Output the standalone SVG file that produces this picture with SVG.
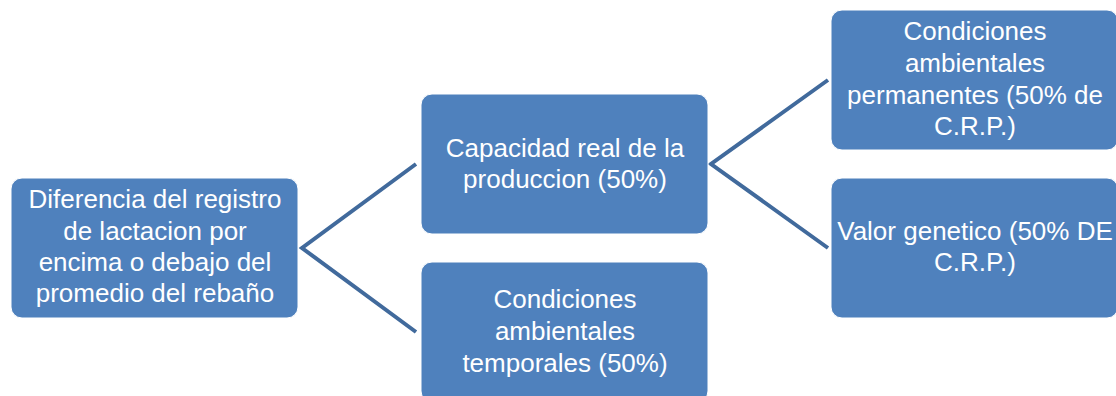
<svg xmlns="http://www.w3.org/2000/svg" width="1116" height="396" viewBox="0 0 1116 396">
<style>
.box{fill:#4F81BD;stroke:#ffffff;stroke-width:1}
.t{font-family:"Liberation Sans",Arial,sans-serif;font-size:26px;fill:#ffffff;text-anchor:middle}
.c{stroke:#416A9C;stroke-width:4;fill:none;stroke-linecap:butt;stroke-linejoin:miter}
</style>
<rect width="1116" height="396" fill="#ffffff"/>
<g id="connectors">
<polyline class="c" points="416,164 302,248 416,332"/>
<polyline class="c" points="828,80 711,164 828,248"/>
</g>
<g id="n1">
<rect class="box" x="11" y="178" width="287" height="140" rx="11"/>
<text class="t" x="155" y="208">Diferencia del registro</text>
<text class="t" x="155" y="240">de lactacion por</text>
<text class="t" x="155" y="271">encima o debajo del</text>
<text class="t" x="155" y="302">promedio del rebaño</text>
</g>
<g id="n2">
<rect class="box" x="421" y="94" width="287" height="140" rx="11"/>
<text class="t" x="565" y="157">Capacidad real de la</text>
<text class="t" x="565" y="188">produccion (50%)</text>
</g>
<g id="n3">
<rect class="box" x="421" y="262" width="287" height="140" rx="11"/>
<text class="t" x="565" y="308">Condiciones</text>
<text class="t" x="565" y="340">ambientales</text>
<text class="t" x="565" y="372">temporales (50%)</text>
</g>
<g id="n4">
<rect class="box" x="831" y="10" width="287" height="140" rx="11"/>
<text class="t" x="975" y="40">Condiciones</text>
<text class="t" x="975" y="72">ambientales</text>
<text class="t" x="975" y="104">permanentes (50% de</text>
<text class="t" x="975" y="135">C.R.P.)</text>
</g>
<g id="n5">
<rect class="box" x="831" y="178" width="287" height="140" rx="11"/>
<text class="t" x="975" y="240">Valor genetico (50% DE</text>
<text class="t" x="975" y="271">C.R.P.)</text>
</g>
</svg>
